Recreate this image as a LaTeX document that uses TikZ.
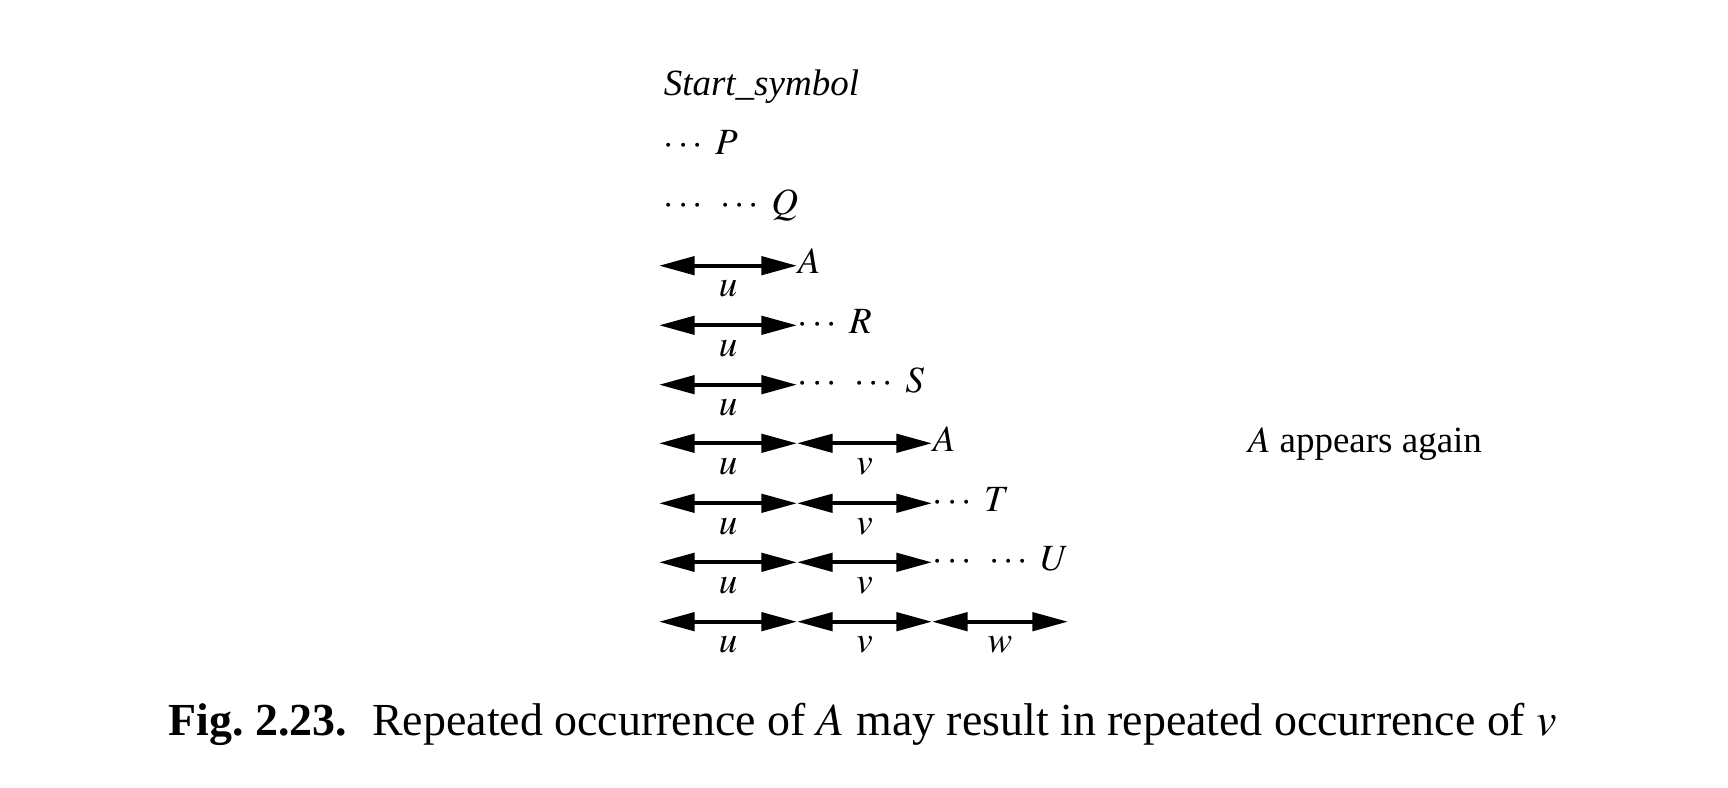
\documentclass[tikz,border=0pt]{standalone}
\usepackage{mathptmx}
\usepackage{fontspec}
\setmainfont{Liberation Serif}
\usetikzlibrary{arrows.meta}

\tikzset{
  seg/.style={{Triangle[length=9.6pt,width=4.9pt]}-{Triangle[length=9.6pt,width=4.9pt]}, line width=1.1pt},
  lbl/.style={inner sep=0pt, anchor=base west, yshift=-2.2pt},
  txt/.style={inner sep=0pt, anchor=base west},
  sub/.style={midway, inner sep=0pt, anchor=base, yshift=-8.4pt}
}

\begin{document}
\begin{tikzpicture}[x=0.27027pt, y=-0.27027pt]
            \useasboundingbox (0,0) rectangle (1728,788);

            % Define the derivation steps above the arrows
            \node[txt] (start) at (663,95.7) {\textit{Start\_symbol}};
            \node[txt] (P) at (663,155) {$\cdots\;P$};
            \node[txt] (Q) at (663,215) {$\cdots\ \,\cdots\;Q$};

            % Define the end points of the arrows, one row per step
            \foreach \r/\y in {1/265.7,2/325.3,3/384.7,4/443.3,5/503.3,6/562.3,7/621.7}{
              \coordinate (r\r a) at (659,\y);
              \coordinate (r\r b) at (797,\y);
              \coordinate (r\r c) at (932,\y);
              \coordinate (r\r d) at (1068,\y);
            }

            % Define the u parts
            \foreach \r in {1,...,7}
              \draw[seg] (r\r a) -- node[sub] (u\r) {$u$} (r\r b);

            % Define the v parts
            \foreach \r in {4,...,7}
              \draw[seg] (r\r b) -- node[sub] (v\r) {$v$} (r\r c);

            % Define the w part
            \draw[seg] (r7c) -- node[sub] (w7) {$w$} (r7d);

            % Add the symbols after the arrows
            \node[lbl] (A1) at (r1b) {$A$};
            \node[lbl] (R) at (r2b) {$\cdots\;R$};
            \node[lbl] (S) at (r3b) {$\cdots\ \,\cdots\;S$};
            \node[lbl] (A2) at (r4c) {$A$};
            \node[lbl] (T) at (r5c) {$\cdots\;T$};
            \node[lbl] (U) at (r6c) {$\cdots\ \,\cdots\;U$};

            % Add the remark on the right
            \node[txt] (again) at (1247,452.3) {$A$ appears again};

            % Add the caption
            \node[txt] (caption) at (168,735) {\fontsize{12.4}{15}\selectfont\textbf{Fig.~2.23.}\hspace{0.55em}Repeated occurrence of $A$ may result in repeated occurrence of $v$};

        \end{tikzpicture}
\end{document}
